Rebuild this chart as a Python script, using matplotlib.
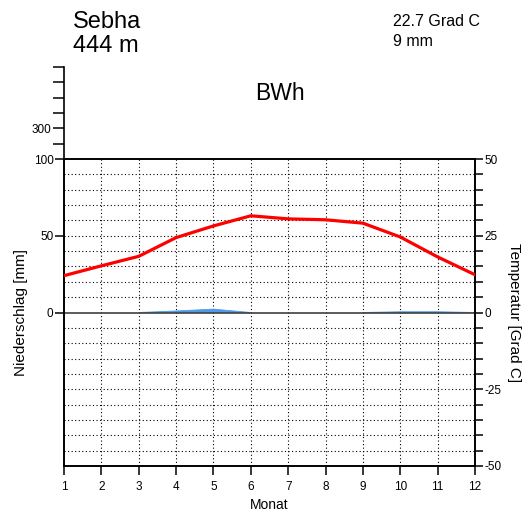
import numpy as np
import matplotlib.pyplot as plt

plt.rcParams['font.family'] = ['Liberation Sans', 'DejaVu Sans']

# climate data for Sebha
station = 'Sebha'
elevation = '444 m'
climate_class = 'BWh'
mean_temp_text = '22.7 Grad C'
total_precip_text = '9 mm'

months = [1, 2, 3, 4, 5, 6, 7, 8, 9, 10, 11, 12]
temperature = [12.0, 15.2, 18.3, 24.4, 28.2, 31.5, 30.5, 30.2, 29.1, 24.6, 18.1, 12.3]
precipitation = [0, 0, 0, 1.0, 2.2, 0, 0, 0, 0, 0.5, 0.5, 0]

W, H = 527, 512
fig = plt.figure(figsize=(W / 100, H / 100), dpi=100)


def frac_box(x0, y0, x1, y1):
    # pixel box (top-left origin) to figure fraction
    return [x0 / W, 1 - y1 / H, (x1 - x0) / W, (y1 - y0) / H]


# main diagram: precipitation (left) and temperature (right)
ax = fig.add_axes(frac_box(64, 159, 475, 466))
ax.set_xlim(1, 12)
ax.set_ylim(-100, 100)
ax_t = ax.twinx()
ax_t.set_ylim(-50, 50)

for sp in list(ax.spines.values()) + list(ax_t.spines.values()):
    sp.set_linewidth(1.2)

# dotted grid
for t in np.arange(-45, 50, 5):
    if t != 0:
        ax_t.axhline(t, color='black', lw=0.8, ls=(0, (1, 2.2)), zorder=1)
for m in months[1:-1]:
    ax.axvline(m, color='black', lw=0.8, ls=(0, (1, 2.2)), zorder=1)
ax_t.axhline(0, color='#404040', lw=1.2, zorder=2)

# precipitation, only around months with rain
prec = np.array(precipitation)
wet = np.convolve(prec > 0, [1, 1, 1], 'same') > 0
ax.fill_between(months, 0, prec, where=wet, color='#4d9be8',
                edgecolor='#4d9be8', lw=0.6, zorder=3)

# temperature
ax_t.plot(months, temperature, color='#ff0000', lw=2.3, zorder=5)

ax.set_xticks(months)
ax.set_xticklabels([str(m) for m in months], fontsize=8.5)
ax.tick_params(axis='x', direction='out', length=6.5, width=1.1, pad=4)
ax.set_yticks([0, 50, 100])
ax.set_yticklabels(['0', '50', '100'], fontsize=8.5)
ax.tick_params(axis='y', direction='out', length=6.5, width=1.1, pad=1)

ax_t.set_yticks([-50, -25, 0, 25, 50])
ax_t.set_yticklabels(['-50', '-25', '0', '25', '50'], fontsize=8.5)
ax_t.set_yticks(np.arange(-45, 50, 5), minor=True)
ax_t.tick_params(axis='y', which='both', direction='out', length=6, width=1.1, pad=1)

ax.set_xlabel('Monat', fontsize=10, labelpad=4)
ax.set_ylabel('Niederschlag [mm]', fontsize=11, labelpad=4)
ax_t.set_ylabel('Temperatur [Grad C]', fontsize=11, rotation=-90, labelpad=14)

# compressed precipitation scale above 100 mm
ax_up = fig.add_axes(frac_box(64, 67, 475, 159))
ax_up.set_ylim(100, 700)
ax_up.set_xlim(1, 12)
ax_up.patch.set_alpha(0)
for side in ['top', 'right', 'bottom']:
    ax_up.spines[side].set_visible(False)
ax_up.spines['left'].set_linewidth(1.2)
ax_up.set_xticks([])
ax_up.set_yticks([200, 300, 400, 500, 600, 700])
ax_up.set_yticklabels(['', '300', '', '', '', ''], fontsize=8.5)
ax_up.tick_params(axis='y', direction='out', length=8, width=1.1, pad=1)

# header texts
fig.text(73 / W, 1 - 22 / H, station, fontsize=17, va='center', ha='left')
fig.text(73 / W, 1 - 46 / H, elevation, fontsize=17, va='center', ha='left')
fig.text(393 / W, 1 - 22 / H, mean_temp_text, fontsize=11.5, va='center', ha='left')
fig.text(393 / W, 1 - 42 / H, total_precip_text, fontsize=11.5, va='center', ha='left')
fig.text(255 / W, 1 - 93 / H, climate_class, fontsize=16.5, va='center', ha='left')

fig.savefig('out.png', dpi=100)
